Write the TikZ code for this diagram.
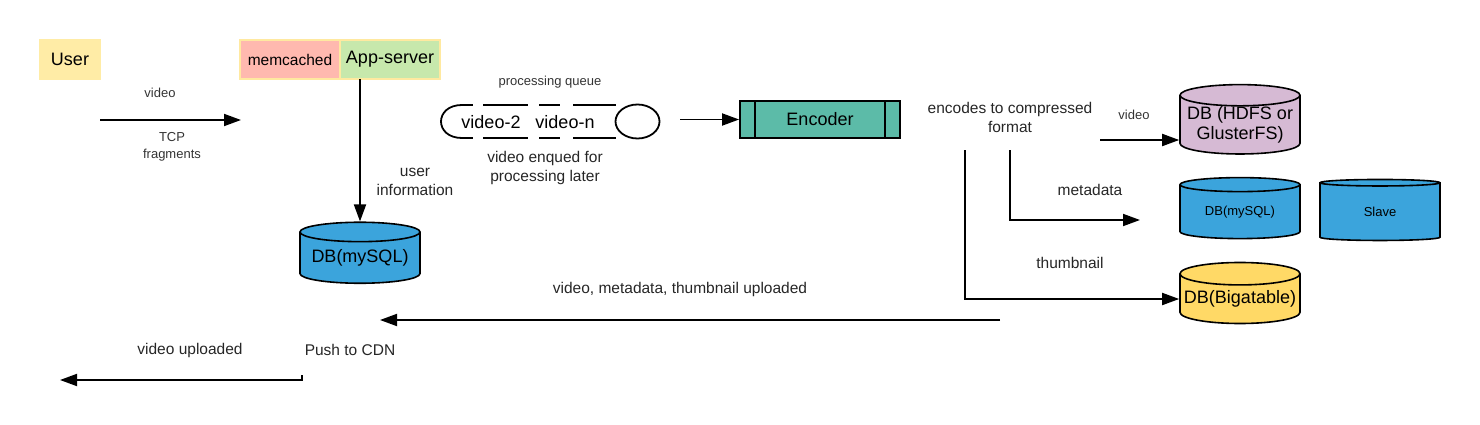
\documentclass[tikz,border=0pt]{standalone}
\usepackage{fontspec}
\setmainfont{Liberation Sans}
\usetikzlibrary{arrows.meta,shapes.geometric,calc}

\definecolor{userfill}{RGB}{255,236,166}
\definecolor{memfill}{RGB}{255,185,175}
\definecolor{appfill}{RGB}{199,232,172}
\definecolor{frameyellow}{RGB}{255,233,160}
\definecolor{dbblue}{RGB}{59,164,220}
\definecolor{hdfsfill}{RGB}{214,186,212}
\definecolor{bigfill}{RGB}{255,217,102}
\definecolor{encfill}{RGB}{92,187,168}

\begin{document}
\begin{tikzpicture}[x=1pt,y=-1pt,
  flow/.style={line width=1.8pt, -{Triangle[length=17pt,width=12pt]}},
  dbcyl/.style={cylinder, shape border rotate=90, aspect=0.2, draw=black, line width=1.6pt,
    minimum width=120pt, minimum height=61pt, inner sep=0pt, align=center,
    font=\fontsize{18}{20}\selectfont},
  lbl/.style={font=\fontsize{15.5}{19}\selectfont, text=black!85, align=center},
  smalllbl/.style={font=\fontsize{13}{17}\selectfont, text=black!80, align=center}]

\useasboundingbox (0,0) rectangle (1480,425);

%USER AND APP SERVER
\node[fill=userfill, minimum width=62pt, minimum height=41pt, inner sep=0pt,
  font=\fontsize{18}{20}\selectfont] (user) at (70,59.5) {User};
\node[fill=memfill, minimum width=99pt, minimum height=39pt, inner sep=0pt,
  font=\fontsize{15.5}{18}\selectfont] (memcached) at (290,59.5) {memcached};
\node[fill=appfill, minimum width=99pt, minimum height=39pt, inner sep=0pt,
  font=\fontsize{18}{20}\selectfont] (appserver) at (390,59.5) {App-server};
\draw[frameyellow, line width=2pt] (memcached.north west) rectangle (appserver.south east);
\draw[frameyellow, line width=2pt] (memcached.north east) -- (memcached.south east);

\coordinate (upstart) at (100,120);
\coordinate (upend) at (241,120);
\draw[flow] (upstart) -- (upend);
\node[smalllbl] (vidlbl) at (160,93) {video};
\node[smalllbl] (tcplbl) at (172,146.5) {TCP\\fragments};

%USER DB
\node[dbcyl, fill=dbblue] (mysql) at (360,258) {DB(mySQL)};
\draw[flow] (mysql.north |- appserver.south) -- (mysql.north);
\node[lbl] (userinfo) at (415,181.5) {user\\information};

%QUEUE
\node[smalllbl] (queuelbl) at (550,82) {processing queue};
\draw[line width=1.8pt] (462,105) .. controls (434,105) and (434,138) .. (462,138);
\foreach \xa/\xb in {460/473, 483/528, 539/560, 573/616}{
  \draw[line width=1.5pt] (\xa,105) -- (\xb,105);
  \draw[line width=1.5pt] (\xa,138) -- (\xb,138);
}
\draw[line width=1.8pt] (637.5,121.5) ellipse [x radius=22, y radius=17];
\node[font=\fontsize{18}{20}\selectfont] (video2) at (491,122) {video-2};
\node[font=\fontsize{18}{20}\selectfont] (videon) at (565,122) {video-n};
\node[lbl] (enqued) at (545,167.5) {video enqued for\\processing later};

%ENCODER
\node[draw, line width=1.8pt, fill=encfill, minimum width=160pt, minimum height=37pt,
  font=\fontsize{18}{20}\selectfont] (encoder) at (820,119.5) {Encoder};
\draw[line width=1.8pt] ($(encoder.north west)+(16,0)$) -- ($(encoder.south west)+(16,0)$);
\draw[line width=1.8pt] ($(encoder.north east)+(-16,0)$) -- ($(encoder.south east)+(-16,0)$);
\coordinate (qout) at (680,119.5);
\draw[flow] (qout) -- (qout -| encoder.west);
\node[lbl] (encodes) at (1010,117) {encodes to compressed\\format};

%STORAGE
\node[dbcyl, fill=hdfsfill] (hdfs) at (1240,125) {DB (HDFS or\\GlusterFS)};
\node[dbcyl, fill=dbblue, font=\fontsize{13}{16}\selectfont] (mysqltwo) at (1240,212) {DB(mySQL)};
\node[dbcyl, fill=dbblue, font=\fontsize{13}{16}\selectfont] (slave) at (1380,212) {Slave};
\node[dbcyl, fill=bigfill] (bigtable) at (1240,299) {DB(Bigatable)};

\coordinate (vidout) at (1100,140);
\draw[flow] (vidout) -- (vidout -| hdfs.west);
\node[smalllbl] (hdfslbl) at (1134,115) {video};

\coordinate (metaout) at (1010,150);
\coordinate (metaend) at (1140,220);
\draw[flow] (metaout) |- (metaend);
\node[lbl] (metalbl) at (1090,190) {metadata};

\coordinate (thumbout) at (965,150);
\draw[flow] (thumbout) |- (bigtable.west);
\node[lbl] (thumblbl) at (1070,263) {thumbnail};

%UPLOAD AND CDN
\coordinate (uplstart) at (1000,320);
\coordinate (uplend) at (380,320);
\draw[flow] (uplstart) -- (uplend);
\node[lbl] (upllbl) at (680,289) {video, metadata, thumbnail uploaded};

\node[lbl] (cdn) at (350,350) {Push to CDN};
\coordinate (cdnout) at (302,375);
\coordinate (cdnend) at (60,380);
\draw[flow] (cdnout) |- (cdnend);
\node[lbl] (donelbl) at (190,350) {video uploaded};

\end{tikzpicture}
\end{document}
